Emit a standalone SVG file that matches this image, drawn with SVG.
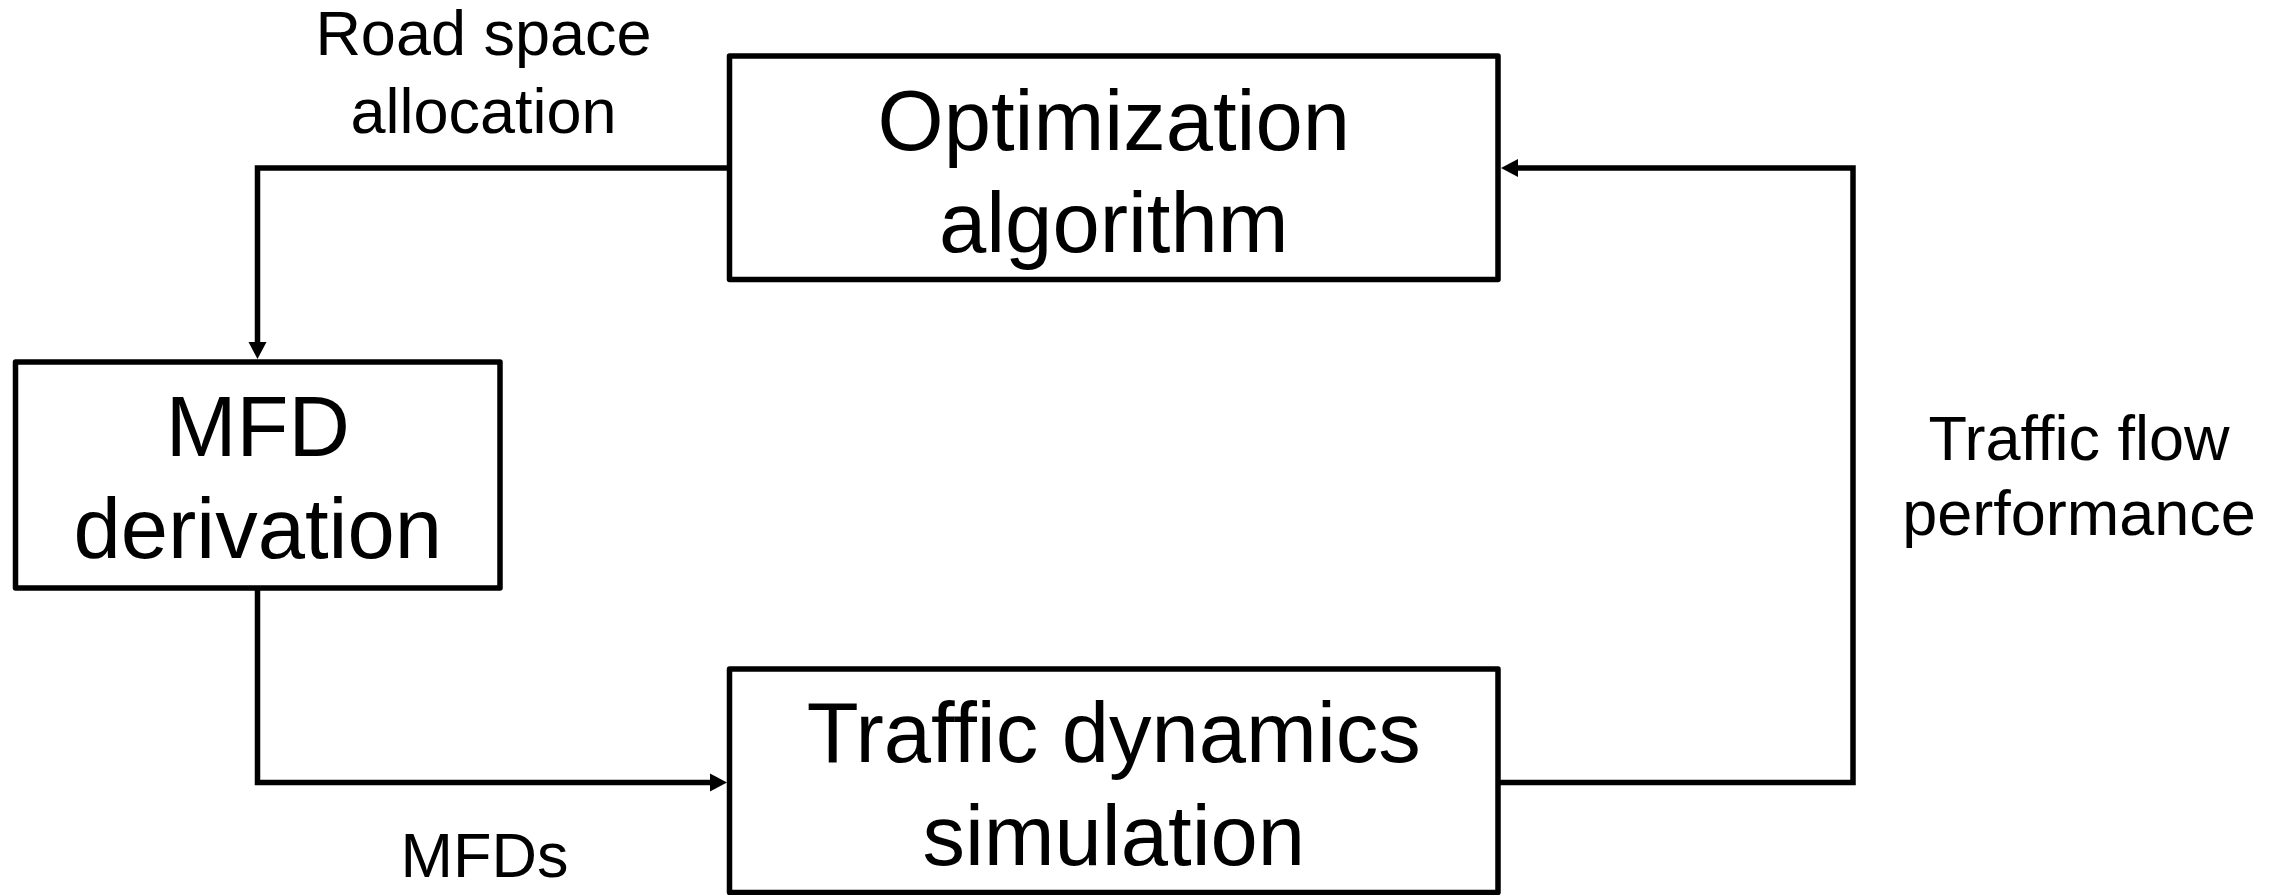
<svg xmlns="http://www.w3.org/2000/svg" width="2285" height="895" viewBox="0 0 2285 895">
  <style>
    .box { fill: #ffffff; stroke: #000000; stroke-width: 5.5; stroke-linejoin: round; }
    .conn { fill: none; stroke: #000000; stroke-width: 5.5; stroke-linejoin: miter; }
    .big { font-family: "Liberation Sans", Arial, sans-serif; font-size: 85px; fill: #000000; text-anchor: middle; }
    .lbl { font-family: "Liberation Sans", Arial, sans-serif; font-size: 63px; fill: #000000; text-anchor: middle; }
  </style>
  <defs>
    <marker id="arrow" markerUnits="userSpaceOnUse" markerWidth="17" markerHeight="18" refX="7" refY="9" orient="auto" overflow="visible">
      <path d="M0,0 L17,9 L0,18 Z" fill="#000000"/>
    </marker>
  </defs>
  <rect x="0" y="0" width="2285" height="895" fill="#ffffff"/>

  <g id="connectors">
    <path class="conn" d="M729.5,168 L257.5,168 L257.5,349" marker-end="url(#arrow)"/>
    <path class="conn" d="M257.5,588 L257.5,782.5 L717,782.5" marker-end="url(#arrow)"/>
    <path class="conn" d="M1498,782.5 L1853,782.5 L1853,168 L1511,168" marker-end="url(#arrow)"/>
  </g>

  <g id="node-optimization">
    <rect class="box" x="729.5" y="56" width="768.5" height="223.5"/>
    <text class="big" x="1113.75" y="150">Optimization</text>
    <text class="big" x="1113.75" y="252">algorithm</text>
  </g>

  <g id="node-mfd">
    <rect class="box" x="15.5" y="362" width="484.5" height="226"/>
    <text class="big" x="257.75" y="456">MFD</text>
    <text class="big" x="257.75" y="558">derivation</text>
  </g>

  <g id="node-traffic">
    <rect class="box" x="729.5" y="669" width="768.5" height="223.5"/>
    <text class="big" x="1113.75" y="762">Traffic dynamics</text>
    <text class="big" x="1113.75" y="865">simulation</text>
  </g>

  <g id="labels">
    <text class="lbl" x="483.5" y="55">Road space</text>
    <text class="lbl" x="483.5" y="133">allocation</text>
    <text class="lbl" x="2079" y="460">Traffic flow</text>
    <text class="lbl" x="2079" y="535">performance</text>
    <text class="lbl" x="484.5" y="877">MFDs</text>
  </g>
</svg>
